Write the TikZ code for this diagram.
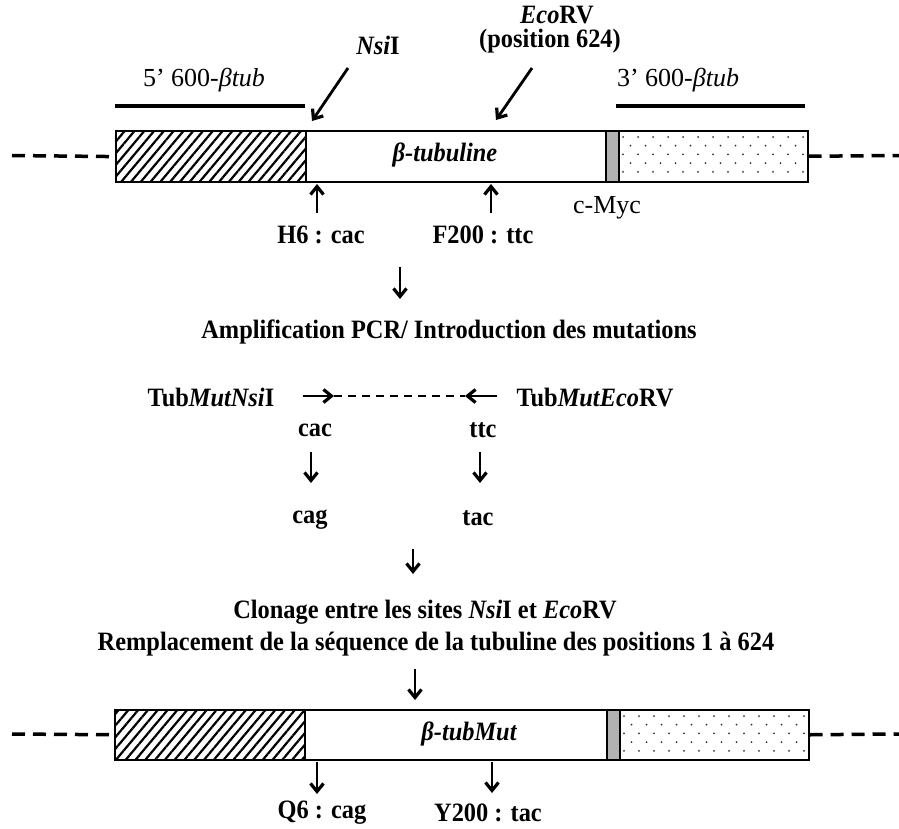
\documentclass[tikz,border=0pt]{standalone}
\usepackage{fontspec}
\setmainfont{Liberation Serif}
\newfontfamily\cfont{Liberation Serif}[FakeStretch=0.92]
\usetikzlibrary{arrows.meta,patterns.meta}
\tikzset{
  bl/.style={font=\cfont\fontsize{26.5}{28}\selectfont\bfseries, inner sep=0pt},
  bli/.style={font=\cfont\fontsize{26.5}{28}\selectfont\bfseries\itshape, inner sep=0pt},
  rl/.style={font=\fontsize{26}{30}\selectfont, inner sep=0pt},
  arr/.style={line width=2.8pt, -{Straight Barb[length=8pt,width=13pt,line width=3.2pt]}},
  boxline/.style={draw, line width=1.5pt},
  hatch/.style={boxline, pattern={Lines[angle=50,distance=7.5pt,line width=2.2pt]}},
  myc/.style={boxline, fill=gray!60},
  dna/.style={line width=3.5pt, dash pattern=on 13pt off 8pt},
  seg/.style={line width=3.5pt},
  thinDash/.style={line width=1.8pt, dash pattern=on 8pt off 6pt},
  part/.style={boxline, minimum height=51pt, inner sep=0pt, anchor=north west}
}
\newcommand{\dotfield}[1]{% #1 = top y
  \foreach \i in {0,...,4}{
    \pgfmathsetmacro{\yy}{#1+7+8.7*\i}
    \pgfmathsetmacro{\xo}{mod(\i,2)*7.5}
    \foreach \j in {0,...,12}{
      \pgfmathsetmacro{\xx}{623+\xo+15*\j}
      \ifdim \xx pt < 804pt
        \fill[black!80] (\xx,\yy) circle (1pt);
      \fi
    }
  }
}
\begin{document}
\begin{tikzpicture}[x=1pt,y=-1pt]
\useasboundingbox (0,0) rectangle (899,828);

% ---------- top construct ----------
\node[part, hatch, minimum width=190pt] (h1) at (115,130) {};
\node[part, fill=white, minimum width=300pt] (w1) at (305,130) {};
\node[part, myc, minimum width=13pt] (m1) at (605,130) {};
\node[part, fill=white, minimum width=189pt] (d1) at (618,130) {};
\dotfield{130}
\node[part, minimum width=189pt] at (618,130) {};
\coordinate (L1) at (12,155.5);
\coordinate (R1) at (899,155.5);
\draw[dna] (L1) -- (h1.west);
\draw[dna] (d1.east) -- (R1);

\node[bli] (bt1) at (445,155) {β-tubuline};

\node[rl] (l5) at (204,80) {5’ 600-\textit{βtub}};
\coordinate (s5a) at (115,106); \coordinate (s5b) at (305,106);
\draw[seg] (s5a) -- (s5b);
\node[rl] (l3) at (678,80) {3’ 600-\textit{βtub}};
\coordinate (s3a) at (616,106); \coordinate (s3b) at (805,106);
\draw[seg] (s3a) -- (s3b);

\node[bl] (nsi) at (378,45) {\textit{Nsi}I};
\coordinate (nsiA) at (348,68); \coordinate (nsiB) at (312,121);
\draw[arr] (nsiA) -- (nsiB);
\node[bl, align=center, font=\cfont\fontsize{26.5}{24}\selectfont\bfseries] (eco) at (550,30) {\hspace*{14pt}\textit{Eco}RV\\(position 624)};
\coordinate (ecoA) at (532,68); \coordinate (ecoB) at (496,120);
\draw[arr] (ecoA) -- (ecoB);

\node[rl] (cmyc) at (607,208) {c-Myc};
\node[bl] (h6) at (321,235) {H6 : cac};
\node[bl] (f200) at (483,235) {F200 : ttc};
\coordinate (h6a) at (317,213); \coordinate (h6b) at (317,184);
\coordinate (f2a) at (491,213); \coordinate (f2b) at (491,184);
\draw[arr] (h6a) -- (h6b);
\draw[arr] (f2a) -- (f2b);

% ---------- PCR step ----------
\coordinate (d1a) at (400,267); \coordinate (d1b) at (400,299);
\draw[arr] (d1a) -- (d1b);
\node[bl] (amp) at (449,332) {Amplification PCR/ Introduction des mutations};

\node[bl] (pn) at (211,397) {Tub\textit{MutNsi}I};
\node[bl] (pe) at (595,397) {Tub\textit{MutEco}RV};
\coordinate (p1) at (303,396); \coordinate (p2) at (334,396);
\coordinate (p3) at (465,396); \coordinate (p4) at (497,396);
\draw[arr] (p1) -- (p2);
\draw[thinDash] (p2) -- (p3);
\draw[arr] (p4) -- (p3);

\node[bl] (cac) at (315,430) {cac};
\node[bl] (ttc) at (483,430) {ttc};
\coordinate (ca1) at (311,452); \coordinate (ca2) at (311,483);
\coordinate (tt1) at (480,452); \coordinate (tt2) at (480,483);
\draw[arr] (ca1) -- (ca2);
\draw[arr] (tt1) -- (tt2);
\node[bl] (cag) at (310,520) {cag};
\node[bl] (tac) at (478,518) {tac};

\coordinate (d2a) at (413,549); \coordinate (d2b) at (413,574);
\draw[arr] (d2a) -- (d2b);
\node[bl] (clo) at (425,612) {Clonage entre les sites \textit{Nsi}I et \textit{Eco}RV};
\node[bl] (rem) at (436,644) {Remplacement de la séquence de la tubuline des positions 1 à 624};
\coordinate (d3a) at (415,669); \coordinate (d3b) at (415,700);
\draw[arr] (d3a) -- (d3b);

% ---------- bottom construct ----------
\node[part, hatch, minimum width=190pt, minimum height=50pt] (h2) at (114,709) {};
\node[part, fill=white, minimum width=302pt, minimum height=50pt] (w2) at (304,709) {};
\node[part, myc, minimum width=13pt, minimum height=50pt] (m2) at (606,709) {};
\node[part, fill=white, minimum width=189pt, minimum height=50pt] (d2) at (619,709) {};
\begin{scope}[xshift=1pt, yshift=-579pt]
\dotfield{130}
\end{scope}
\node[part, minimum width=189pt, minimum height=50pt] at (619,709) {};
\coordinate (L2) at (12,734);
\coordinate (R2) at (899,734);
\draw[dna] (L2) -- (h2.west);
\draw[dna] (d2.east) -- (R2);
\node[bli] (bt2) at (469,734) {β-tubMut};

\coordinate (q1) at (317,762); \coordinate (q2) at (317,794);
\coordinate (y1) at (492,762); \coordinate (y2) at (492,793);
\draw[arr] (q1) -- (q2);
\draw[arr] (y1) -- (y2);
\node[bl] (q6) at (322,813) {Q6 : cag};
\node[bl] (y200) at (488,813) {Y200 : tac};
\end{tikzpicture}
\end{document}
